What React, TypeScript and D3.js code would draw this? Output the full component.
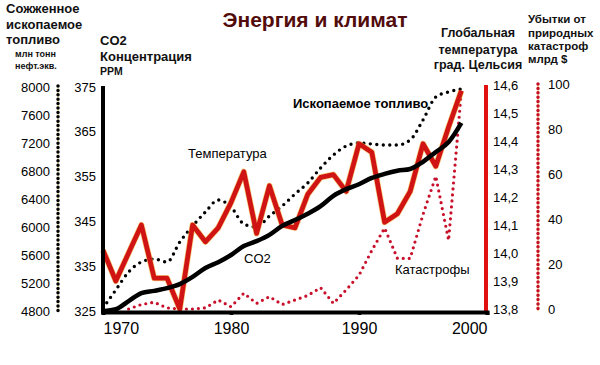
import { useEffect, useRef } from 'react';
import * as d3 from 'd3';

// годы наблюдений
const years = [1970, 1971, 1972, 1973, 1974, 1975, 1976, 1977, 1978, 1979, 1980, 1981, 1982, 1983, 1984,
  1985, 1986, 1987, 1988, 1989, 1990, 1991, 1992, 1993, 1994, 1995, 1996, 1997, 1998];

// Сожженное ископаемое топливо, млн тонн н.э.
const fuel = [4843, 5100, 5357, 5500, 5543, 5500, 5786, 6014, 6214, 6386, 6286, 6043, 6000, 6157, 6300,
  6471, 6629, 6843, 7029, 7157, 7200, 7186, 7171, 7171, 7243, 7529, 7857, 7929, 7971];

// CO2, ppm
const co2 = [325.0, 325.4, 327.2, 329.0, 329.5, 330.1, 331.0, 332.6, 334.6, 335.9, 337.5, 339.5, 340.6, 342.0, 344.0,
  345.3, 346.7, 348.4, 350.7, 352.2, 353.3, 354.7, 355.6, 356.3, 356.7, 358.3, 360.5, 362.7, 367.0];

// Глобальная температура, °C
const temp = [14.01, 13.90, 14.00, 14.10, 13.91, 13.91, 13.80, 14.10, 14.04, 14.09, 14.18, 14.29, 14.07, 14.24, 14.10,
  14.09, 14.21, 14.27, 14.28, 14.22, 14.39, 14.36, 14.11, 14.14, 14.22, 14.39, 14.31, 14.45, 14.58];

// Убытки от катастроф, млрд $ (с 1972)
const disasterYears = years.slice(2);
const disasters = [0, 2, 3, 0.5, 0, 0, 0.5, 4, 1, 7, 2.5, 5.5, 2, 4, 6, 9.5, 2.5, 8.5, 15, 26, 36, 22.5, 22.5, 42, 59, 30.5, 97];

const xTicks = [1970, 1980, 1990, 2000];
const fuelTicks = [4800, 5200, 5600, 6000, 6400, 6800, 7200, 7600, 8000];
const co2Ticks = [325, 335, 345, 355, 365, 375];
const tempTicks = [13.8, 13.9, 14.0, 14.1, 14.2, 14.3, 14.4, 14.5, 14.6];
const disasterTicks = [0, 20, 40, 60, 80, 100];

const FONT = "'Liberation Sans', Arial, sans-serif";

const App = () => {
  const ref = useRef<SVGSVGElement>(null);

  useEffect(() => {
    if (!ref.current) return;
    const svg = d3.select(ref.current);
    svg.selectAll('*').remove();

    const x = d3.scaleLinear().domain([1970, 2000]).range([103, 487]);
    const yFuel = d3.scaleLinear().domain([4800, 8000]).range([311, 87]);
    const yCo2 = d3.scaleLinear().domain([325, 375]).range([311, 87]);
    const yTemp = d3.scaleLinear().domain([13.8, 14.6]).range([309, 85]);
    const yDis = d3.scaleLinear().domain([0, 100]).range([309, 84]);

    const g = svg.append('g').style('font-family', FONT);

    // --- заголовки ---
    g.append('text').attr('x', 315).attr('y', 27).attr('text-anchor', 'middle')
      .attr('font-size', 21).attr('font-weight', 'bold').attr('fill', '#520c0c')
      .text('Энергия и климат');

    const block = (lines: string[], xx: number, ys: number[], size: number, anchor = 'start') => {
      lines.forEach((t, i) => {
        g.append('text').attr('x', xx).attr('y', ys[i]).attr('text-anchor', anchor)
          .attr('font-size', size).attr('font-weight', 'bold').attr('fill', '#111').text(t);
      });
    };
    block(['Сожженное', 'ископаемое', 'топливо'], 6, [13, 29, 44], 13);
    block(['млн тонн', 'нефт.экв.'], 15, [57, 69], 9);
    block(['CO2', 'Концентрация'], 100, [45, 61], 13);
    block(['PPM'], 100, [75], 10.5);
    block(['Глобальная', 'температура', 'град. Цельсия'], 478, [37, 54, 69], 12.5, 'middle');
    block(['Убытки от', 'природных', 'катастроф', 'млрд $'], 528, [23, 37, 50, 63], 11.5);

    // --- оси ---
    // топливо (пунктир черный)
    g.append('line').attr('x1', 58).attr('x2', 58).attr('y1', 86).attr('y2', 312)
      .attr('stroke', '#f4e27a').attr('stroke-width', 1);
    g.append('line').attr('x1', 58).attr('x2', 58).attr('y1', 86).attr('y2', 312)
      .attr('stroke', '#000').attr('stroke-width', 3.5).attr('stroke-linecap', 'round')
      .attr('stroke-dasharray', '0 4.4');
    g.append('g').selectAll('text').data(fuelTicks).join('text')
      .attr('x', 50).attr('y', d => yFuel(d)).attr('dy', '0.35em').attr('text-anchor', 'end')
      .attr('font-size', 13).attr('fill', '#000').text(d => d);

    // катастрофы (пунктир красный)
    g.append('line').attr('x1', 538).attr('x2', 538).attr('y1', 84).attr('y2', 311)
      .attr('stroke', '#f4d060').attr('stroke-width', 1.2);
    g.append('line').attr('x1', 538).attr('x2', 538).attr('y1', 84).attr('y2', 311)
      .attr('stroke', '#c4102a').attr('stroke-width', 3.5).attr('stroke-linecap', 'round')
      .attr('stroke-dasharray', '0 4.4');
    g.append('g').selectAll('text').data(disasterTicks).join('text')
      .attr('x', 548).attr('y', d => yDis(d)).attr('dy', '0.35em')
      .attr('font-size', 13).attr('fill', '#000').text(d => d);

    // CO2 ось
    g.append('g').selectAll('text').data(co2Ticks).join('text')
      .attr('x', 96).attr('y', d => yCo2(d)).attr('dy', '0.35em').attr('text-anchor', 'end')
      .attr('font-size', 13).attr('fill', '#000').text(d => d);

    // температура ось
    g.append('g').selectAll('text').data(tempTicks).join('text')
      .attr('x', 493).attr('y', d => yTemp(d)).attr('dy', '0.35em')
      .attr('font-size', 13).attr('fill', '#000').text(d => d.toFixed(1).replace('.', ','));

    // --- линии данных ---
    const idx = d3.range(years.length);

    const lineFuel = d3.line<number>().x(i => x(years[i])).y(i => yFuel(fuel[i])).curve(d3.curveMonotoneX);
    g.append('path').datum(idx).attr('d', lineFuel).attr('fill', 'none')
      .attr('stroke', '#000').attr('stroke-width', 3.4).attr('stroke-linecap', 'round')
      .attr('stroke-dasharray', '0 6.5');

    const lineDis = d3.line<number>().x((_, i) => x(disasterYears[i])).y(d => yDis(d));
    g.append('path').datum(disasters).attr('d', lineDis).attr('fill', 'none')
      .attr('stroke', '#c8102a').attr('stroke-width', 3.2).attr('stroke-linecap', 'round')
      .attr('stroke-dasharray', '0 6');

    const lineTemp = d3.line<number>().x(i => x(years[i])).y(i => yTemp(temp[i]));
    g.append('path').datum(idx).attr('d', lineTemp).attr('fill', 'none')
      .attr('stroke', '#f0b030').attr('stroke-width', 6.2).attr('stroke-linejoin', 'round').attr('opacity', 0.6);
    g.append('path').datum(idx).attr('d', lineTemp).attr('fill', 'none')
      .attr('stroke', '#d01414').attr('stroke-width', 4.8).attr('stroke-linejoin', 'round');

    const lineCo2 = d3.line<number>().x(i => x(years[i])).y(i => yCo2(co2[i])).curve(d3.curveMonotoneX);
    g.append('path').datum(idx).attr('d', lineCo2).attr('fill', 'none')
      .attr('stroke', '#000').attr('stroke-width', 4.5).attr('stroke-linejoin', 'round');

    // сплошные оси поверх
    g.append('line').attr('x1', 103).attr('x2', 103).attr('y1', 86).attr('y2', 314)
      .attr('stroke', '#000').attr('stroke-width', 4);
    g.append('line').attr('x1', 486).attr('x2', 486).attr('y1', 85).attr('y2', 312)
      .attr('stroke', '#e01010').attr('stroke-width', 4);

    const xAxis = g.append('g').attr('transform', 'translate(0,312)')
      .call(d3.axisBottom(x).tickValues(xTicks).tickFormat(d3.format('d')).tickSize(3).tickPadding(8));
    xAxis.select('.domain').attr('stroke', '#000').attr('stroke-width', 4);
    xAxis.selectAll('.tick line').attr('stroke', '#000').attr('stroke-width', 3.5);
    xAxis.selectAll<SVGTextElement, number>('.tick text')
      .attr('font-size', 16).attr('font-family', FONT).attr('fill', '#000')
      .attr('text-anchor', d => (d === 1970 ? 'start' : d === 2000 ? 'end' : 'middle'));

    // --- подписи линий ---
    const label = (t: string, xx: number, yy: number, bold = false) =>
      g.append('text').attr('x', xx).attr('y', yy).attr('font-size', 13)
        .attr('font-weight', bold ? 'bold' : 'normal').attr('fill', '#000').text(t);
    label('Температура', 188, 158);
    label('Ископаемое топливо', 293, 108, true);
    label('CO2', 244, 263);
    label('Катастрофы', 395, 274);
  }, []);

  return (
    <svg ref={ref} width={600} height={365}
      style={{ position: 'absolute', left: 0, top: 0, background: 'white' }} />
  );
};

export default App;
